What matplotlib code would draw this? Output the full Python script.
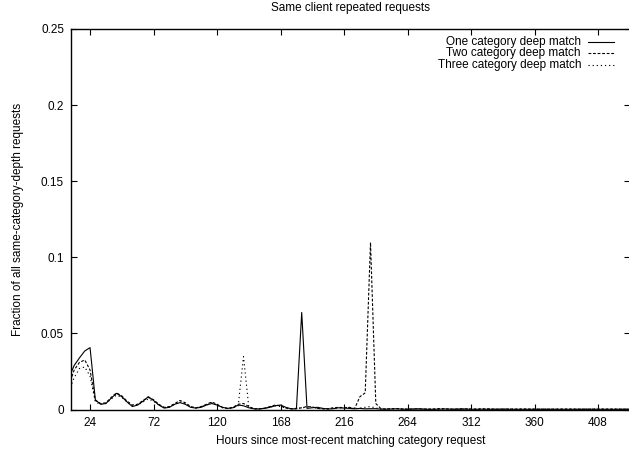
import numpy as np
import matplotlib
matplotlib.use("Agg")
import matplotlib.pyplot as plt
from matplotlib.lines import Line2D

plt.rcParams['font.family'] = ['Liberation Sans', 'DejaVu Sans']

# hours since most-recent matching request (4 hour bins)
hours = list(range(8, 436, 4))

one_deep = [
    0.021, 0.029, 0.034, 0.0385, 0.0407, 0.0065, 0.0035, 0.004, 0.0075, 0.0107,
    0.0085, 0.005, 0.002, 0.003, 0.0055, 0.0085, 0.006, 0.003, 0.001, 0.0015,
    0.0035, 0.0046, 0.0035, 0.0015, 0.001, 0.0015, 0.003, 0.004, 0.003, 0.0015,
    0.0008, 0.0012, 0.003, 0.0025, 0.0012, 0.0005, 0.0004, 0.0008, 0.0015, 0.0025,
    0.003, 0.0015, 0.0005, 0.0005, 0.0638, 0.0008, 0.0012, 0.0015, 0.0008, 0.0004,
    0.0006, 0.0012, 0.001, 0.0008, 0.0005, 0.0008, 0.0005, 0.0006, 0.0006, 0.0003,
    0.0003, 0.0004, 0.0005, 0.0003, 0.0002, 0.0003, 0.0004, 0.0003, 0.0002, 0.0002,
    0.0003, 0.0004, 0.0003, 0.0002, 0.0002, 0.0003, 0.0002, 0.0002, 0.0003, 0.0002,
    0.0002, 0.0002, 0.0003, 0.0002, 0.0002, 0.0002, 0.0002, 0.0002, 0.0002, 0.0002,
    0.0002, 0.0002, 0.0002, 0.0002, 0.0002, 0.0002, 0.0002, 0.0002, 0.0002, 0.0002,
    0.0002, 0.0002, 0.0002, 0.0002, 0.0002, 0.0002, 0.0002,
]

two_deep = [
    0.016, 0.026, 0.031, 0.0326, 0.026, 0.006, 0.004, 0.0045, 0.008, 0.011,
    0.009, 0.0055, 0.003, 0.0035, 0.006, 0.008, 0.0065, 0.0035, 0.0015, 0.002,
    0.004, 0.006, 0.0045, 0.002, 0.0012, 0.002, 0.0035, 0.005, 0.0035, 0.0015,
    0.0008, 0.0015, 0.0035, 0.004, 0.002, 0.0006, 0.0005, 0.001, 0.002, 0.003,
    0.0025, 0.001, 0.0006, 0.0008, 0.0012, 0.002, 0.0018, 0.0008, 0.0005, 0.0006,
    0.0012, 0.0015, 0.0012, 0.0015, 0.0007, 0.0085, 0.011, 0.1098, 0.004, 0.0005,
    0.0004, 0.0006, 0.0007, 0.0004, 0.0003, 0.0005, 0.0006, 0.0004, 0.0003, 0.0004,
    0.0006, 0.0005, 0.0003, 0.0004, 0.0006, 0.0005, 0.0004, 0.0003, 0.0004, 0.0005,
    0.0004, 0.0003, 0.0003, 0.0004, 0.0003, 0.0003, 0.0004, 0.0003, 0.0003, 0.0003,
    0.0003, 0.0003, 0.0003, 0.0003, 0.0003, 0.0003, 0.0003, 0.0003, 0.0003, 0.0003,
    0.0003, 0.0003, 0.0003, 0.0003, 0.0003, 0.0003, 0.0003,
]

three_deep = [
    0.012, 0.021, 0.027, 0.028, 0.022, 0.005, 0.0035, 0.004, 0.007, 0.0095,
    0.008, 0.005, 0.0025, 0.003, 0.005, 0.007, 0.0055, 0.003, 0.0012, 0.0018,
    0.0035, 0.005, 0.004, 0.0018, 0.001, 0.0018, 0.003, 0.0045, 0.003, 0.0012,
    0.0006, 0.001, 0.0025, 0.0348, 0.0015, 0.0005, 0.0005, 0.0009, 0.0018, 0.0025,
    0.002, 0.001, 0.0005, 0.0007, 0.001, 0.0018, 0.0015, 0.0007, 0.0004, 0.0005,
    0.001, 0.0012, 0.001, 0.0012, 0.0006, 0.001, 0.0015, 0.002, 0.001, 0.0004,
    0.0003, 0.0005, 0.0006, 0.0003, 0.0003, 0.0004, 0.0005, 0.0003, 0.0003, 0.0003,
    0.0005, 0.0004, 0.0003, 0.0003, 0.0005, 0.0004, 0.0003, 0.0003, 0.0003, 0.0004,
    0.0003, 0.0003, 0.0003, 0.0003, 0.0003, 0.0003, 0.0003, 0.0003, 0.0003, 0.0003,
    0.0003, 0.0003, 0.0003, 0.0003, 0.0003, 0.0003, 0.0003, 0.0003, 0.0003, 0.0003,
    0.0003, 0.0003, 0.0003, 0.0003, 0.0003, 0.0003, 0.0003,
]

labels = ['One category deep match', 'Two category deep match', 'Three category deep match']
x_ticks = [24, 72, 120, 168, 216, 264, 312, 360, 408]
y_ticks = [0, 0.05, 0.1, 0.15, 0.2, 0.25]
y_tick_labels = ['0', '0.05', '0.1', '0.15', '0.2', '0.25']

W, H = 629, 451
fig = plt.figure(figsize=(W / 100, H / 100), dpi=100)
# plot box runs past the right edge of the picture, like the reference
ax = fig.add_axes([71 / W, 41.4 / H, 558.8 / W, 380.6 / H])

styles = ['-', (0, (2.5, 1.6)), (0, (1.1, 2.6))]
series = [one_deep, two_deep, three_deep]
for vals, ls, lab in zip(series, styles, labels):
    ax.plot(hours, vals, color='black', lw=0.8, ls=ls, label=lab)

ax.set_xlim(9.6, 432)
ax.set_ylim(0, 0.25)
ax.set_xticks(x_ticks)
ax.set_yticks(y_ticks)
ax.set_yticklabels(y_tick_labels)
ax.tick_params(direction='in', length=4, width=0.8, top=True, right=True,
               labelsize=8.5, pad=5)
for s in ax.spines.values():
    s.set_linewidth(1.0)

ax.set_title('Same client repeated requests', fontsize=8.5, pad=13)
ax.set_xlabel('Hours since most-recent matching category request', fontsize=8.5, labelpad=5)
ax.set_ylabel('Fraction of all same-category-depth requests', fontsize=8.5, labelpad=12)

# gnuplot-style key: right-aligned text, sample line after it
for i, (ls, lab) in enumerate(zip(styles, labels)):
    y = 1 - (41.7 + i * 11.7) / H
    fig.text(581 / W, y, lab, ha='right', va='center', fontsize=8.5)
    fig.add_artist(Line2D([588 / W, 614 / W], [y, y], transform=fig.transFigure,
                          color='black', lw=0.8, ls=ls))

fig.savefig('out.png', dpi=100)
